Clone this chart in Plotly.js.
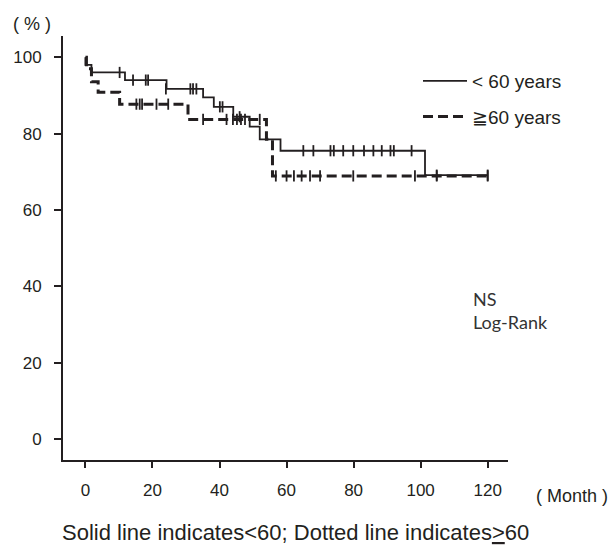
<!DOCTYPE html>
<html>
<head>
<meta charset="utf-8">
<script src="https://cdn.plot.ly/plotly-3.0.1.min.js"></script>
<style>html,body{margin:0;padding:0;background:#fff;}#chart{width:615px;height:548px;}</style>
</head>
<body>
<div id="chart"></div>
<script>
// Kaplan-Meier step data (months, survival %)
const youngTimes = [0, 0, 1.8, 11.8, 24.2, 35.1, 38.3, 44.1, 49, 52, 58.2, 101.3, 120];
const youngSurv  = [100, 98, 96, 94, 91.7, 89.5, 87, 84.4, 81.8, 78.5, 75.5, 69.1, 69.1];
const oldTimes   = [0, 0.3, 1.8, 3.8, 10.2, 30.6, 54, 55.8, 120];
const oldSurv    = [100, 97, 93.6, 90.8, 87.7, 83.7, 78.5, 68.9, 68.9];

// censored observations
const youngCensT = [10.2, 14.2, 18, 18.7, 24, 31.3, 32.1, 33.1, 40.1, 40.9, 46, 65, 68, 73.1, 74.1, 76.9, 79.9, 83.1, 85.9, 88.4, 91, 92, 97.3, 104.8, 120];
const youngCensS = [96, 94, 94, 94, 91.7, 91.7, 91.7, 91.7, 87, 87, 84.4, 75.5, 75.5, 75.5, 75.5, 75.5, 75.5, 75.5, 75.5, 75.5, 75.5, 75.5, 75.5, 69.1, 69.1];
const oldCensT   = [15.2, 16.2, 16.9, 21.2, 24.7, 35.1, 42.1, 44, 45.2, 46.4, 47.6, 52, 56.8, 60, 62.2, 64.5, 67, 70, 79.9, 98.3, 104.8, 120];
const oldCensS   = [87.7, 87.7, 87.7, 87.7, 87.7, 83.7, 83.7, 83.7, 83.7, 83.7, 83.7, 83.7, 68.9, 68.9, 68.9, 68.9, 68.9, 68.9, 68.9, 68.9, 68.9, 68.9];

const xTicks = [0, 20, 40, 60, 80, 100, 120];
const yTicks = [0, 20, 40, 60, 80, 100];

const ink = '#231f20';
const L = 63, R = 508, T = 36, B = 460;
const px = x => (x - L) / (R - L);
const py = y => (B - y) / (B - T);

const traces = [
  {x: youngTimes, y: youngSurv, type: 'scatter', mode: 'lines', line: {shape: 'hv', color: ink, width: 1.8},
   name: '< 60 years', legendgroup: 'a'},
  {x: oldTimes, y: oldSurv, type: 'scatter', mode: 'lines', line: {shape: 'hv', color: ink, width: 3, dash: '10px,5px'},
   name: '≧60 years', legendgroup: 'b'},
  {x: youngCensT, y: youngCensS, type: 'scatter', mode: 'markers', showlegend: false,
   marker: {symbol: 'line-ns-open', size: 8, color: ink, line: {color: ink, width: 1.8}}},
  {x: oldCensT, y: oldCensS, type: 'scatter', mode: 'markers', showlegend: false,
   marker: {symbol: 'line-ns-open', size: 8, color: ink, line: {color: ink, width: 1.8}}}
];

const axisCommon = {
  showgrid: false, zeroline: false, showline: true, linecolor: ink, linewidth: 2,
  ticks: 'outside', tickcolor: ink, tickwidth: 2,
  tickfont: {family: 'Liberation Sans, Arial, sans-serif', size: 17, color: ink}
};

const layout = {
  width: 615, height: 548,
  margin: {l: L, r: 615 - R, t: T, b: 548 - B, pad: 0},
  paper_bgcolor: '#fff', plot_bgcolor: '#fff',
  showlegend: true,
  legend: {x: px(418), y: py(62), xanchor: 'left', yanchor: 'top', bgcolor: 'rgba(0,0,0,0)',
           font: {family: 'Liberation Sans, Arial, sans-serif', size: 19, color: ink},
           itemwidth: 44, traceorder: 'grouped', tracegroupgap: 8},
  xaxis: Object.assign({}, axisCommon, {range: [-6.69, 126.06], tickvals: xTicks, ticktext: xTicks.map(String),
          ticklen: 6, ticklabelstandoff: 8}),
  yaxis: Object.assign({}, axisCommon, {range: [-5.5, 105.55], tickvals: yTicks, ticktext: yTicks.map(String),
          ticklen: 7, ticklabelstandoff: 9}),
  annotations: [
    {text: '( % )', xref: 'paper', yref: 'paper', x: px(32), y: py(24), xanchor: 'center', yanchor: 'middle',
     showarrow: false, font: {family: 'Liberation Sans, Arial, sans-serif', size: 18, color: ink}},
    {text: '( Month )', xref: 'paper', yref: 'paper', x: px(572), y: py(496), xanchor: 'center', yanchor: 'middle',
     showarrow: false, font: {family: 'Liberation Sans, Arial, sans-serif', size: 18, color: ink}},
    {text: 'NS<br>Log-Rank', xref: 'paper', yref: 'paper', x: px(471), y: py(310), xanchor: 'left', yanchor: 'middle', align: 'left',
     showarrow: false, font: {family: 'Lato, sans-serif', size: 18, color: '#333'}},
    {text: 'Solid line indicates&lt;60; Dotted line indicates<u>&gt;</u>60', xref: 'paper', yref: 'paper',
     x: px(60), y: py(532), xanchor: 'left', yanchor: 'middle',
     showarrow: false, font: {family: 'Liberation Sans, Arial, sans-serif', size: 22, color: ink}}
  ]
};

Plotly.newPlot('chart', traces, layout, {displayModeBar: false, staticPlot: true});
</script>
</body>
</html>
